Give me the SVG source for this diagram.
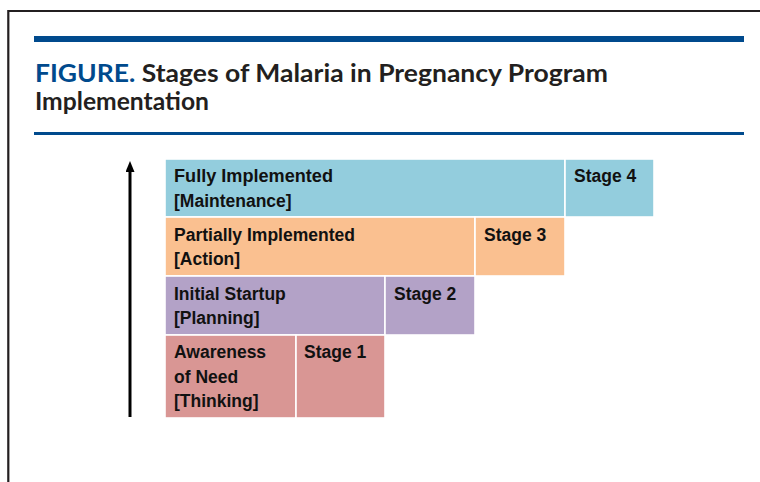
<svg xmlns="http://www.w3.org/2000/svg" width="760" height="482" viewBox="0 0 760 482">
<style>
.frame{stroke:#231f20;stroke-width:2.2;fill:none}
.bar{fill:#004a8d}
.title{font-family:"Lato","Liberation Sans",sans-serif;font-weight:bold;font-size:25px;fill:#231f20}
.fig{fill:#004a8d}
.box{stroke:#ffffff;stroke-width:1.6}
.c4{fill:#93cddd}.c3{fill:#fac090}.c2{fill:#b3a2c7}.c1{fill:#d99694}
.lbl{font-family:"Liberation Sans","Open Sans",sans-serif;font-weight:bold;font-size:17.5px;fill:#111111}
</style>
<defs>
<marker id="ah" viewBox="0 0 11 9" refX="2" refY="4.5" markerWidth="11" markerHeight="9" markerUnits="userSpaceOnUse" orient="auto">
<path d="M0,0 L11,4.5 L0,9 Z" fill="#000000"/>
</marker>
</defs>
<rect width="760" height="482" fill="#ffffff"/>
<path class="frame" d="M8.3,482 L8.3,11 L760,11"/>
<rect class="bar" x="34" y="36" width="710" height="6"/>
<rect class="bar" x="34" y="132" width="710" height="3"/>
<text class="title" x="35" y="82" textLength="573" lengthAdjust="spacingAndGlyphs"><tspan class="fig">FIGURE.</tspan> Stages of Malaria in Pregnancy Program</text>
<text class="title" x="35" y="110" textLength="174" lengthAdjust="spacingAndGlyphs">Implementation</text>
<g id="connectors">
<line x1="130" y1="417" x2="130" y2="170" stroke="#000000" stroke-width="3" marker-end="url(#ah)"/>
</g>
<g id="stage4">
<rect class="box c4" x="165" y="159" width="400" height="58"/>
<rect class="box c4" x="565" y="159" width="89" height="58"/>
<text class="lbl" x="174" y="182" textLength="159" lengthAdjust="spacingAndGlyphs">Fully Implemented</text>
<text class="lbl" x="174" y="207">[Maintenance]</text>
<text class="lbl" x="574" y="182">Stage 4</text>
</g>
<g id="stage3">
<rect class="box c3" x="165" y="217" width="310" height="59"/>
<rect class="box c3" x="475" y="217" width="90" height="59"/>
<text class="lbl" x="174" y="241">Partially Implemented</text>
<text class="lbl" x="174" y="265">[Action]</text>
<text class="lbl" x="484" y="241">Stage 3</text>
</g>
<g id="stage2">
<rect class="box c2" x="165" y="276" width="220" height="59"/>
<rect class="box c2" x="385" y="276" width="90" height="59"/>
<text class="lbl" x="174" y="300">Initial Startup</text>
<text class="lbl" x="174" y="324">[Planning]</text>
<text class="lbl" x="394" y="300">Stage 2</text>
</g>
<g id="stage1">
<rect class="box c1" x="165" y="335" width="131" height="83"/>
<rect class="box c1" x="296" y="335" width="89" height="83"/>
<text class="lbl" x="174" y="358">Awareness</text>
<text class="lbl" x="174" y="383">of Need</text>
<text class="lbl" x="174" y="407">[Thinking]</text>
<text class="lbl" x="304" y="358">Stage 1</text>
</g>
</svg>
